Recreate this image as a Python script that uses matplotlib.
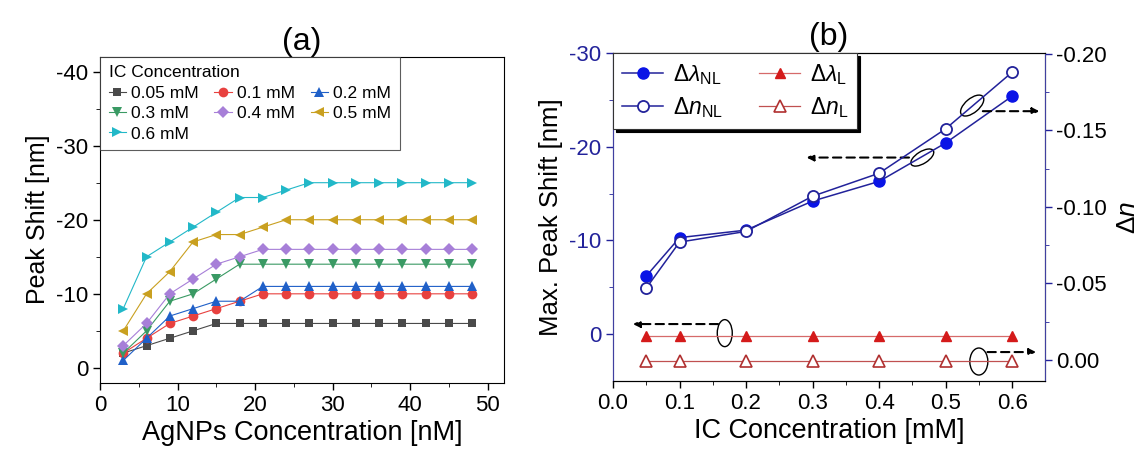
import numpy as np
import matplotlib
matplotlib.use('Agg')
import matplotlib.pyplot as plt
from matplotlib.patches import Ellipse
from matplotlib.transforms import ScaledTranslation

plt.rcParams['font.family'] = ['Liberation Sans', 'DejaVu Sans']
plt.rcParams['mathtext.fontset'] = 'custom'
plt.rcParams['mathtext.rm'] = 'Liberation Sans'
plt.rcParams['mathtext.it'] = 'Liberation Sans:italic'
plt.rcParams['axes.unicode_minus'] = False

# panel (a) data
agnp = [3, 6, 9, 12, 15, 18, 21, 24, 27, 30, 33, 36, 39, 42, 45, 48]
ic_labels = ['0.05 mM', '0.1 mM', '0.2 mM', '0.3 mM', '0.4 mM', '0.5 mM', '0.6 mM']
s005 = [-2, -3, -4, -5, -6, -6, -6, -6, -6, -6, -6, -6, -6, -6, -6, -6]
s01 = [-2, -4, -6, -7, -8, -9, -10, -10, -10, -10, -10, -10, -10, -10, -10, -10]
s02 = [-1, -4, -7, -8, -9, -9, -11, -11, -11, -11, -11, -11, -11, -11, -11, -11]
s03 = [-2, -5, -9, -10, -12, -14, -14, -14, -14, -14, -14, -14, -14, -14, -14, -14]
s04 = [-3, -6, -10, -12, -14, -15, -16, -16, -16, -16, -16, -16, -16, -16, -16, -16]
s05 = [-5, -10, -13, -17, -18, -18, -19, -20, -20, -20, -20, -20, -20, -20, -20, -20]
s06 = [-8, -15, -17, -19, -21, -23, -23, -24, -25, -25, -25, -25, -25, -25, -25, -25]

# panel (b) data
ic = [0.05, 0.1, 0.2, 0.3, 0.4, 0.5, 0.6]
dl_nl = [-6.2, -10.3, -11.1, -14.2, -16.3, -20.4, -25.4]
dn_nl = [-0.047, -0.077, -0.084, -0.107, -0.122, -0.151, -0.188]
dl_l = [0.2, 0.2, 0.2, 0.2, 0.2, 0.2, 0.2]
dn_l = [0.001, 0.001, 0.001, 0.001, 0.001, 0.001, 0.001]

fig = plt.figure(figsize=(11.48, 4.54), dpi=100)

# ---------- (a)
ax = fig.add_axes([0.0871, 0.157, 0.352, 0.718])
series = [s005, s01, s02, s03, s04, s05, s06]
markers = ['s', 'o', '^', 'v', 'D', '<', '>']
colors = ['#4a4a4a', '#e8413f', '#2060c8', '#3a9a64', '#a77fd8', '#c9a020', '#22b8c8']
msizes = [5.5, 7, 7, 7, 6, 7, 7]
handles = []
for s, m, c, ms, lab in zip(series, markers, colors, msizes, ic_labels):
    h, = ax.plot(agnp, s, marker=m, color=c, ms=ms, lw=0.8, label=lab,
                 markeredgewidth=0)
    handles.append(h)
ax.set_xlim(0, 52.1)
ax.set_ylim(2, -42)
ax.set_xticks([0, 10, 20, 30, 40, 50])
ax.set_xticks([5, 15, 25, 35, 45], minor=True)
ax.set_yticks([0, -10, -20, -30, -40])
ax.set_yticks([-5, -15, -25, -35], minor=True)
ax.tick_params(labelsize=16, length=5, width=1)
ax.tick_params(which='minor', length=3)
ax.set_xlabel('AgNPs Concentration [nM]', fontsize=19.5, labelpad=3)
ax.set_ylabel('Peak Shift [nm]', fontsize=18)
ax.set_title('(a)', fontsize=23, pad=4)
# legend filled column by column -> reorder so that it reads row by row
order = [0, 3, 6, 1, 4, 2, 5]
leg = ax.legend([handles[i] for i in order], [ic_labels[i] for i in order],
                loc='upper left', bbox_to_anchor=(0, 1), borderaxespad=0, ncol=3,
                title='IC Concentration', fontsize=12.5, title_fontsize=12.5,
                handlelength=1.0, handletextpad=0.3, columnspacing=0.9,
                labelspacing=0.3, fancybox=False, edgecolor='#333333',
                alignment='left', borderpad=0.5)
leg.get_frame().set_linewidth(0.8)

# ---------- (b)
navy = '#22229a'
bx = fig.add_axes([0.534, 0.161, 0.376, 0.722])
l1, = bx.plot(ic, dl_nl, marker='o', color=navy, mfc='#0a14e6', mec='#0a14e6', ms=8, lw=1.1,
              label=r'$\Delta\lambda_{\rm NL}$')
l3, = bx.plot(ic, dl_l, marker='^', color='#d66a6a', mfc='#d41a1a', mec='#d41a1a', ms=7, lw=0.9,
              label=r'$\Delta\lambda_{\rm L}$')
bx.set_xlim(0, 0.649)
bx.set_ylim(5, -30)
bx.set_xticks([0, 0.1, 0.2, 0.3, 0.4, 0.5, 0.6])
bx.set_xticks([0.05, 0.15, 0.25, 0.35, 0.45, 0.55], minor=True)
bx.set_xticklabels(['0.0', '0.1', '0.2', '0.3', '0.4', '0.5', '0.6'])
bx.set_yticks([0, -10, -20, -30])
bx.set_yticks([-5, -15, -25], minor=True)
bx.tick_params(labelsize=16, length=5, width=1)
bx.tick_params(which='minor', length=3)
bx.tick_params(axis='y', colors=navy, which='both')
bx.spines['left'].set_color('#4040a0')
bx.set_xlabel('IC Concentration [mM]', fontsize=19.5, labelpad=3)
bx.set_ylabel('Max. Peak Shift [nm]', fontsize=18.5, color='black')
bx.set_title('(b)', fontsize=23, pad=6)

bx2 = bx.twinx()
l2, = bx2.plot(ic, dn_nl, marker='o', color=navy, mfc='white', mec=navy, ms=8, mew=1.3, lw=1.1,
               label=r'$\Delta \it{n}_{\rm NL}$')
l4, = bx2.plot(ic, dn_l, marker='^', color='#c05050', mfc='white', mec='#b03030', ms=8, mew=1.2,
               lw=0.9, label=r'$\Delta \it{n}_{\rm L}$')
bx2.set_ylim(0.0137, -0.2005)
bx2.set_yticks([0, -0.05, -0.10, -0.15, -0.20])
bx2.set_yticklabels(['0.00', '-0.05', '-0.10', '-0.15', '-0.20'])
bx2.set_yticks([-0.025, -0.075, -0.125, -0.175], minor=True)
bx2.tick_params(labelsize=16, length=5, width=1, colors='black')
bx2.tick_params(axis='y', which='both', color=navy)
bx2.tick_params(which='minor', length=3)
bx2.spines['right'].set_color('#4040a0')
bx2.spines['left'].set_color('#4040a0')
bx2.set_ylabel(r'$\Delta \it{n}$', fontsize=19, labelpad=6)

lg = bx2.legend([l1, l2, l3, l4], [l.get_label() for l in (l1, l2, l3, l4)],
                loc='upper left', bbox_to_anchor=(0, 1), borderaxespad=0, ncol=2,
                fontsize=16.5, handlelength=1.8, handletextpad=0.4, columnspacing=1.6,
                labelspacing=0.35, fancybox=False, edgecolor='#333333',
                shadow={'color': 'black', 'alpha': 1}, borderpad=0.4)
lg.get_frame().set_linewidth(0.8)

# ellipses and dashed arrows
def ell(x, y, w, h, ang):
    tr = fig.dpi_scale_trans + ScaledTranslation(x, y, bx.transData)
    bx.add_patch(Ellipse((0, 0), w / 100, h / 100, angle=ang, transform=tr,
                         fill=False, ec='black', lw=1.0, clip_on=False))

def arr(x0, x1, y):
    bx.annotate('', xy=(x1, y), xytext=(x0, y),
                arrowprops=dict(arrowstyle='-|>', ls=(0, (4, 2.5)), lw=1.5, color='black',
                                mutation_scale=10, shrinkA=0, shrinkB=0))

ell(0.465, -18.85, 26, 12, 32)
arr(0.445, 0.291, -18.85)
ell(0.540, -24.4, 28, 14, 40)
arr(0.556, 0.641, -23.8)
ell(0.168, -0.1, 15, 27, 0)
arr(0.158, 0.030, -1.07)
ell(0.550, 2.93, 18, 27, 0)
arr(0.563, 0.636, 1.92)

fig.savefig('out.png', dpi=100)
